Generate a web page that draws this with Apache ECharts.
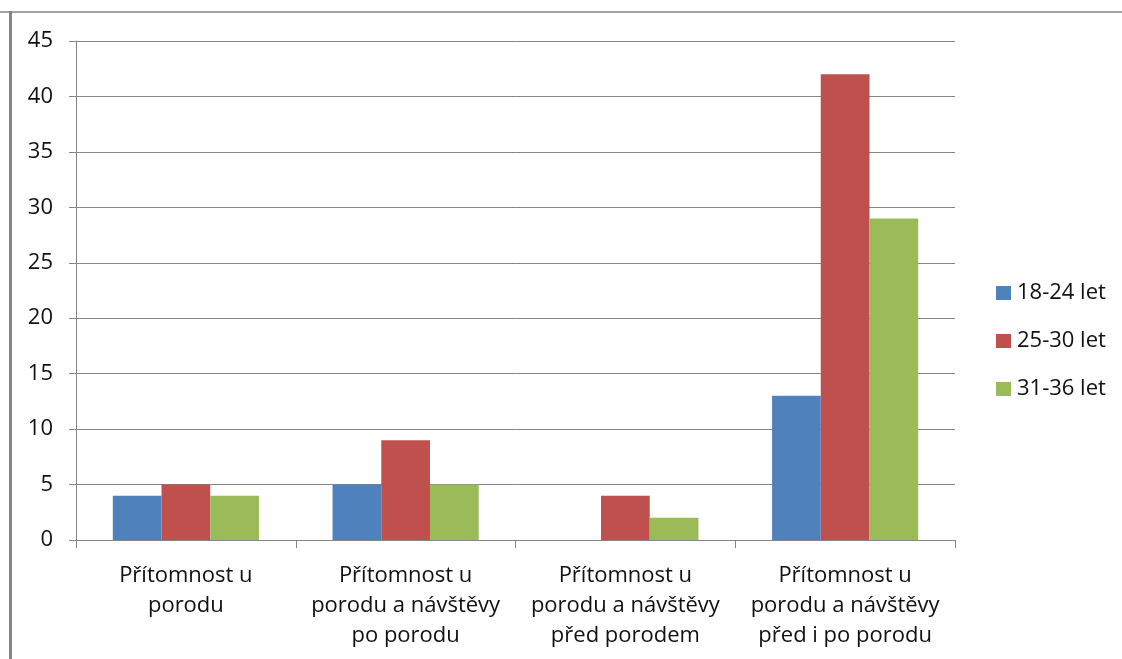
<!DOCTYPE html>
<html>
<head>
<meta charset="utf-8">
<script src="https://cdn.jsdelivr.net/npm/echarts@6/dist/echarts.min.js"></script>
<style>
  html, body { margin: 0; padding: 0; background: #ffffff; }
  #chart { width: 1122px; height: 659px; }
</style>
</head>
<body>
<div id="chart"></div>
<script>
// Categories of partner involvement around childbirth
const categories = [
  'Přítomnost u\nporodu',
  'Přítomnost u\nporodu a návštěvy\npo porodu',
  'Přítomnost u\nporodu a návštěvy\npřed porodem',
  'Přítomnost u\nporodu a návštěvy\npřed i po porodu'
];

// Age groups
const seriesNames = ['18-24 let', '25-30 let', '31-36 let'];
const seriesColors = ['#4F81BD', '#C0504D', '#9BBB59'];

// Counts per age group
const age18to24 = [4, 5, 0, 13];
const age25to30 = [5, 9, 4, 42];
const age31to36 = [4, 5, 2, 29];

// Value axis range
const yMin = 0;
const yMax = 45;
const yStep = 5;

const FONT = '"Open Sans", sans-serif';
const GRID_COLOR = '#868686';
const TEXT_COLOR = '#111111';

const chart = echarts.init(document.getElementById('chart'));

const seriesData = [age18to24, age25to30, age31to36];

chart.setOption({
  animation: false,
  backgroundColor: '#ffffff',
  textStyle: { fontFamily: FONT },
  grid: { left: 76, right: 167, top: 41, bottom: 119, containLabel: false },
  legend: {
    orient: 'vertical',
    left: 996,
    top: 282,
    padding: 0,
    itemWidth: 15,
    itemHeight: 14,
    itemGap: 26,
    icon: 'rect',
    textStyle: { fontFamily: FONT, fontSize: 22, lineHeight: 22, color: TEXT_COLOR, padding: [0, 0, 0, 1] },
    data: seriesNames
  },
  xAxis: {
    type: 'category',
    data: categories,
    axisLine: { lineStyle: { color: GRID_COLOR, width: 1 } },
    axisTick: { show: true, alignWithLabel: false, length: 8, lineStyle: { color: GRID_COLOR } },
    axisLabel: {
      interval: 0,
      margin: 21,
      fontFamily: FONT,
      fontSize: 22,
      lineHeight: 30,
      color: TEXT_COLOR
    }
  },
  yAxis: {
    type: 'value',
    min: yMin,
    max: yMax,
    interval: yStep,
    axisLine: { show: true, lineStyle: { color: GRID_COLOR, width: 1 } },
    axisTick: { show: true, length: 7, lineStyle: { color: GRID_COLOR } },
    splitLine: { show: true, lineStyle: { color: GRID_COLOR, width: 1 } },
    axisLabel: {
      margin: 23,
      fontFamily: FONT,
      fontSize: 22,
      color: TEXT_COLOR
    }
  },
  series: seriesNames.map((name, i) => ({
    name: name,
    type: 'bar',
    data: seriesData[i],
    barGap: '0%',
    barCategoryGap: '33.5%',
    itemStyle: { color: seriesColors[i] }
  })),
  graphic: [
    {
      type: 'line',
      shape: { x1: 0, y1: 12, x2: 1122, y2: 12 },
      style: { stroke: GRID_COLOR, lineWidth: 1.5 },
      silent: true
    },
    {
      type: 'line',
      shape: { x1: 10.5, y1: 11, x2: 10.5, y2: 659 },
      style: { stroke: GRID_COLOR, lineWidth: 3 },
      silent: true
    }
  ]
});
</script>
</body>
</html>
